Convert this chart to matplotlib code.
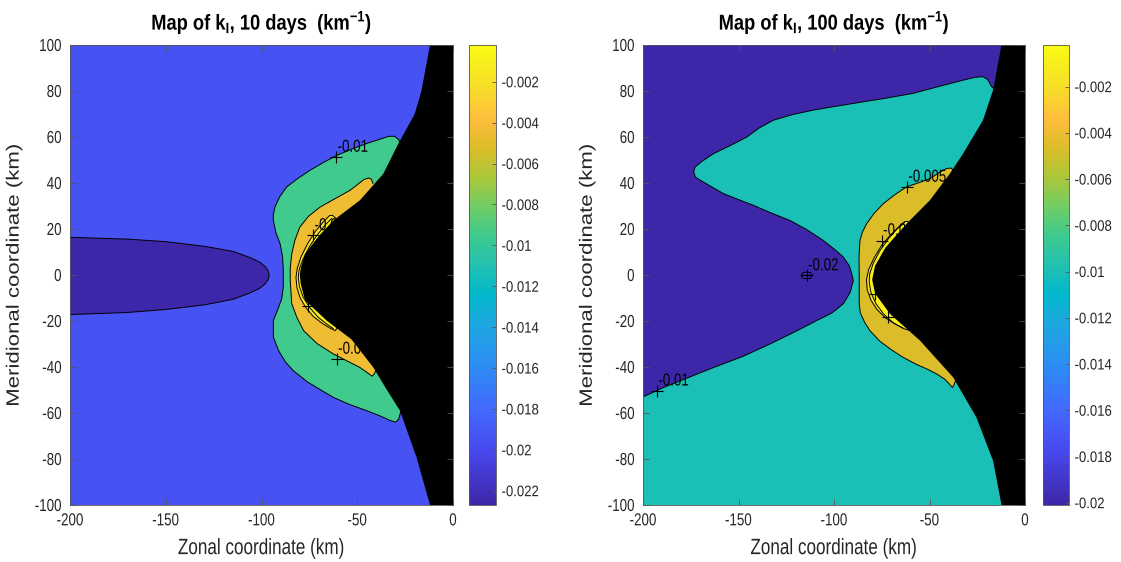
import matplotlib
matplotlib.use('Agg')
import matplotlib.pyplot as plt
from matplotlib.colors import LinearSegmentedColormap, Normalize
from matplotlib.cm import ScalarMappable
from matplotlib.ticker import FuncFormatter
from matplotlib.patheffects import AbstractPathEffect
from matplotlib.transforms import Affine2D

plt.rcParams['font.family'] = ['Liberation Sans', 'DejaVu Sans']
plt.rcParams['mathtext.fontset'] = 'custom'
plt.rcParams['mathtext.rm'] = 'Liberation Sans'
plt.rcParams['mathtext.bf'] = 'Liberation Sans:bold'
plt.rcParams['axes.unicode_minus'] = False

# parula-like colormap (MATLAB default)
parula = LinearSegmentedColormap.from_list('parula', [
    (0.000, (0.2422, 0.1504, 0.6603)), (0.111, (0.2803, 0.2782, 0.9221)),
    (0.206, (0.2602, 0.4123, 0.9952)), (0.302, (0.1764, 0.5499, 0.9520)),
    (0.397, (0.1113, 0.6635, 0.8763)), (0.460, (0.0036, 0.7203, 0.7917)),
    (0.524, (0.1408, 0.7584, 0.6842)), (0.587, (0.2470, 0.7918, 0.5567)),
    (0.651, (0.4456, 0.8024, 0.3909)), (0.714, (0.6720, 0.7793, 0.2227)),
    (0.778, (0.8634, 0.7406, 0.1596)), (0.841, (0.9956, 0.7434, 0.2371)),
    (0.905, (0.9676, 0.8639, 0.1643)), (1.000, (0.9769, 0.9839, 0.0805))])

# ---------------- 10 days ----------------
clim_10 = [-0.0227, -0.0002]
cbar_ticks_10 = [-0.022, -0.02, -0.018, -0.016, -0.014, -0.012, -0.01,
                 -0.008, -0.006, -0.004, -0.002]
bg_level_10 = -0.0195

# edge of the masked (black) zone
coast_y_10 = [100, 80, 70, 57, 44, 32.5, 23.7, 17, 9.2, 3, 0, -4, -11, -19.8,
              -28, -40.2, -50, -59, -79.4, -100]
coast_x_10 = [-12, -16.5, -20, -28.6, -36.4, -48.6, -62.5, -70, -77.3, -79.5,
              -80, -79.5, -77.3, -66, -53, -41.6, -34.5, -27.7, -19, -12]

# minimum tongue on the left edge
kmin_x_10 = [-200, -170, -150, -130, -115, -106, -101, -98, -96.5, -96, -96.5,
             -98, -101, -106, -115, -130, -150, -170, -200]
kmin_y_10 = [16.4, 15.6, 14.5, 12.5, 10.3, 7.6, 5.6, 3.6, 1.8, 0, -1.9,
             -3.8, -5.8, -7.8, -10.6, -13, -15, -16.3, -17.2]
kmin_level_10 = -0.0227

# contour -0.01
c01_x_10 = [-27, -28.3, -30.5, -33.5, -39, -45, -53, -60.7, -67.5, -74.7,
            -81, -86.8, -90.5, -93, -93.9, -93.8, -92.5, -90.3, -89, -88.6,
            -88.6, -89.5, -91.5, -93.8, -93.8, -91, -87.5, -83.4, -76, -68,
            -62.5, -54, -45, -38, -33, -29.8, -28.3, -26.8]
c01_y_10 = [55.7, 58.8, 60.3, 60.3, 58.8, 57.2, 54.7, 52, 49, 45.5, 42,
            38.3, 34, 29.5, 26, 23.7, 18.5, 13.6, 8, 2, -5.3, -10.5, -15,
            -19.8, -27, -33, -37.8, -41.6, -46.5, -50.5, -53.2, -56.3, -59,
            -61.3, -63.2, -64, -62.5, -58]
c01_level_10 = -0.0095

# contour -0.005
c005_x_10 = [-41.8, -42.6, -44, -46.5, -53.8, -62, -69.5, -75.5, -80,
             -82.6, -84.2, -85, -85, -84.2, -81.5, -78, -71, -62.5, -55,
             -48.6, -44.5, -42.2, -41.3, -40]
c005_y_10 = [39.8, 41.6, 42.2, 41.5, 36.8, 33, 29.5, 25.5, 20.8, 15,
             9.2, 3, -2.4, -12.5, -18.5, -24.2, -29.8, -34.3, -37.5,
             -40.2, -42.6, -44, -43.2, -41]
c005_level_10 = -0.0045

# contour -0.002
c002_x_10 = [-61, -63, -64.5, -68, -72, -76, -79.3, -81.3, -82, -81.5,
             -79.8, -77, -73, -68, -64, -61.5, -60.5]
c002_y_10 = [24.5, 26, 25.8, 22.8, 18.8, 13.5, 8, 3, -1, -5.5, -10,
             -14, -18, -21.2, -23.2, -24.2, -23]
c002_level_10 = -0.002

# contour -0.001
c001_x_10 = [-63.5, -67, -71, -75, -78.5, -80.3, -80.8, -80.2, -78.3,
             -75, -70.5, -66, -62.5]
c001_y_10 = [24.5, 21.5, 17.3, 12.3, 6.5, 2.5, -1, -5, -9.5, -14,
             -18.3, -21.3, -23.3]
c001_level_10 = -0.001

lab_x_10 = [-61, -73, -60.7, -75.7]
lab_y_10 = [51.3, 17.2, -36.5, -13.3]
lab_txt_10 = ['-0.01', '-0.002', '-0.005', '-0.001']

# ---------------- 100 days ----------------
clim_100 = [-0.0201, -0.0002]
cbar_ticks_100 = [-0.02, -0.018, -0.016, -0.014, -0.012, -0.01, -0.008,
                  -0.006, -0.004, -0.002]
bg_level_100 = -0.0201

coast_y_100 = [100, 80.4, 67.3, 52.8, 44, 32.5, 22.3, 12, 4, -2, -8, -16.9,
               -28.5, -44.5, -62, -80.8, -100]
coast_x_100 = [-12.3, -16.7, -22, -32.4, -39.4, -49.8, -62, -73, -78.5, -80,
               -78.5, -70.7, -55, -37.6, -25.4, -16.7, -12.3]

# contour -0.01 (separates the minimum from the plateau)
c01_x_100 = [-14, -17.6, -19.5, -22, -26, -32.4, -45, -58.5, -72, -84.7,
             -98, -110.8, -122, -131.7, -139, -145.6, -155, -163, -169,
             -172.7, -173.5, -172.5, -170, -164, -157.9, -150, -142.2, -133,
             -123, -114, -105.6, -99.5, -95.1, -92, -90.7, -89.9, -91.5,
             -95.1, -101, -109, -120, -133.5, -148, -163, -176, -189.2, -200]
c01_y_100 = [79, 82, 85, 86.2, 86, 84.7, 82, 79, 77, 75.3, 73.5, 71.7, 69.7,
             67.3, 64, 60, 56, 52.8, 49.5, 47, 44.8, 42.5, 41.2, 38.3,
             35.4, 32.8, 30.3, 27, 23.7, 19.6, 15, 11, 7.8, 4, 0.5, -2.4,
             -7.5, -12.5, -16.5, -19.8, -24.5, -30, -35.5, -40.2, -44.5,
             -48.9, -53]
c01_level_100 = -0.01

# tiny loop around the minimum
loop_x_100 = [-117.2, -116.3, -114.3, -112.3, -111.4, -112.3, -114.3,
              -116.3, -117.2]
loop_y_100 = [-0.2, 1, 1.3, 1, -0.2, -1.4, -1.7, -1.4, -0.2]

# contour -0.005
c005_x_100 = [-37, -37.5, -38.8, -41, -44, -49.8, -56, -62, -68, -74.2,
              -79, -82.9, -85.2, -86.4, -86.9, -86.8, -86.8, -86.2, -84,
              -81.2, -76, -70, -63.8, -57, -51, -46.3, -42, -39.5, -38,
              -37.3, -36]
c005_y_100 = [43.5, 45.5, 46.5, 46.3, 45, 41.9, 40, 38.3, 35, 31, 26.8,
              22.3, 18.5, 15, 8, 0.5, -12.5, -16.5, -20.5, -24.2, -28.8,
              -32.5, -35.8, -38.8, -41, -43, -45.3, -47.5, -48.9, -48,
              -45]
c005_level_100 = -0.0047

# contour -0.002
c002_x_100 = [-60, -61.5, -63, -66, -70.5, -75, -79, -81.8, -83, -82.6,
              -80.6, -77.5, -73, -68, -63.5, -61, -60]
c002_y_100 = [22.3, 23.3, 23.2, 21, 17.3, 13, 7.5, 2.5, -2, -6.5, -11,
              -15, -18.7, -21.3, -23.3, -24, -22.5]
c002_level_100 = -0.002

# contour -0.001
c001_x_100 = [-63, -67, -71.5, -76, -79.5, -81.3, -81.6, -80.7, -78,
              -74, -69, -64]
c001_y_100 = [22.8, 20, 15.8, 10.5, 5, 0.5, -3, -7.5, -12.5, -17,
              -20.8, -23]
c001_level_100 = -0.001

lab_x_100 = [-61.8, -75, -114.3, -192.7, -71.6, -78.6]
lab_y_100 = [38.3, 15, -0.2, -50.3, -18.4, -8.2]
lab_txt_100 = ['-0.005', '-0.002', '-0.02', '-0.01', '-0.001', '-0.001']

TXT = '#262626'


class Narrow(AbstractPathEffect):
    """Squeeze text horizontally (the MATLAB export has narrow lettering)."""

    def __init__(self, sx, anchor):
        super().__init__()
        self.sx = sx
        self.anchor = anchor

    def draw_path(self, renderer, gc, tpath, affine, rgbFace=None):
        verts = affine.transform(tpath.vertices)
        if len(verts) == 0:
            return
        x0, x1 = verts[:, 0].min(), verts[:, 0].max()
        xa = {'left': x0, 'center': 0.5 * (x0 + x1), 'right': x1}[self.anchor]
        squeeze = Affine2D().translate(-xa, 0).scale(self.sx, 1).translate(xa, 0)
        renderer.draw_path(gc, tpath, affine + squeeze, rgbFace)


def narrow(texts, sx, anchor):
    for t in texts:
        t.set_path_effects([Narrow(sx, anchor)])


def fill_region(ax, cmap, norm, xs, ys, level, tail):
    # fill an open contour; the tail runs through the masked zone
    px = list(xs) + [p[0] for p in tail]
    py = list(ys) + [p[1] for p in tail]
    ax.fill(px, py, color=cmap(norm(level)), lw=0, zorder=2)
    ax.plot(xs, ys, color='k', lw=0.7, zorder=3)


def to_black(ys):
    return [(-5, ys[-1]), (-5, ys[0])]


def draw_panel(ax, cax, clim, cticks, bg_level, regions, loops,
               coast_x, coast_y, lab_x, lab_y, lab_txt, title):
    norm = Normalize(vmin=clim[0], vmax=clim[1])
    ax.set_facecolor(parula(norm(bg_level)))
    for xs, ys, level, tail in regions:
        fill_region(ax, parula, norm, xs, ys, level, tail)
    for xs, ys in loops:
        ax.plot(xs, ys, color='k', lw=0.7, zorder=3)
    labels = []
    for x, y, t in zip(lab_x, lab_y, lab_txt):
        ax.plot(x, y, '+', color='k', ms=8, mew=0.8, zorder=4)
        labels.append(ax.annotate(t, (x, y), xytext=(1, 7),
                                  textcoords='offset points', fontsize=12.5,
                                  ha='left', va='center', color='k', zorder=4))
    narrow(labels, 0.77, 'left')
    # masked area drawn on top
    ax.fill(list(coast_x) + [0, 0], list(coast_y) + [-100, 100],
            color='k', lw=0, zorder=5)

    ax.set_xlim(-200, 0)
    ax.set_ylim(-100, 100)
    ax.set_xticks([-200, -150, -100, -50, 0])
    ax.set_yticks(range(-100, 101, 20))
    ax.tick_params(direction='in', top=True, right=True, length=4,
                   width=0.6, color='#555555', labelsize=12.5,
                   labelcolor=TXT, pad=6)
    ax.xaxis.set_zorder(6)
    ax.yaxis.set_zorder(6)
    for s in ax.spines.values():
        s.set_linewidth(0.6)
        s.set_color('#555555')
        s.set_zorder(6)
    xl = ax.set_xlabel('Zonal coordinate (km)', fontsize=16, color=TXT)
    yl = ax.set_ylabel('Meridional coordinate (km)', fontsize=16, color=TXT)
    ax.xaxis.set_label_coords(0.5, -0.072)
    ax.yaxis.set_label_coords(-0.118, 0.5)
    tt = ax.set_title(title, fontsize=15.5, fontweight='bold', color='k',
                      pad=11)
    narrow([xl], 0.77, 'center')
    narrow([yl], 0.8, 'center')
    narrow([tt], 0.85, 'center')

    sm = ScalarMappable(norm=norm, cmap=parula)
    cb = plt.colorbar(sm, cax=cax)
    cb.set_ticks(cticks)
    cb.ax.yaxis.set_major_formatter(FuncFormatter(lambda v, p: f'{v:g}'))
    cb.ax.tick_params(direction='in', length=3, width=0.6, color='#555555',
                      labelsize=11, labelcolor=TXT, pad=4)
    cb.outline.set_linewidth(0.6)
    cb.outline.set_edgecolor('#555555')


fig = plt.figure(figsize=(11.21, 5.62), dpi=100)
W, H = 1121, 562


def box(x0, x1, y0, y1):
    return [x0 / W, 1 - y1 / H, (x1 - x0) / W, (y1 - y0) / H]


ax1 = fig.add_axes(box(70, 453, 45, 505))
cax1 = fig.add_axes(box(469, 496, 45, 505))
ax2 = fig.add_axes(box(643, 1025, 45, 505))
cax2 = fig.add_axes(box(1043, 1069, 45, 505))

regions_10 = [
    (kmin_x_10, kmin_y_10, kmin_level_10, []),
    (c01_x_10, c01_y_10, c01_level_10, to_black(c01_y_10)),
    (c005_x_10, c005_y_10, c005_level_10, to_black(c005_y_10)),
    (c002_x_10, c002_y_10, c002_level_10, to_black(c002_y_10)),
    (c001_x_10, c001_y_10, c001_level_10, to_black(c001_y_10)),
]
regions_100 = [
    (c01_x_100, c01_y_100, c01_level_100,
     [(-200, -100), (-5, -100), (-5, c01_y_100[0])]),
    (c005_x_100, c005_y_100, c005_level_100, to_black(c005_y_100)),
    (c002_x_100, c002_y_100, c002_level_100, to_black(c002_y_100)),
    (c001_x_100, c001_y_100, c001_level_100, to_black(c001_y_100)),
]

draw_panel(ax1, cax1, clim_10, cbar_ticks_10, bg_level_10, regions_10, [],
           coast_x_10, coast_y_10, lab_x_10, lab_y_10, lab_txt_10,
           r'Map of k$_{\mathbf{I}}$, 10 days  (km$^{\mathbf{-1}}$)')
draw_panel(ax2, cax2, clim_100, cbar_ticks_100, bg_level_100, regions_100,
           [(loop_x_100, loop_y_100)],
           coast_x_100, coast_y_100, lab_x_100, lab_y_100, lab_txt_100,
           r'Map of k$_{\mathbf{I}}$, 100 days  (km$^{\mathbf{-1}}$)')

# tick labels exist once the figure has been drawn
fig.canvas.draw()
for ax in (ax1, ax2):
    narrow(ax.get_xticklabels(), 0.77, 'center')
    narrow(ax.get_yticklabels(), 0.77, 'right')
for cax in (cax1, cax2):
    narrow(cax.get_yticklabels(), 0.86, 'left')

fig.savefig('out.png', dpi=100, facecolor='white')
